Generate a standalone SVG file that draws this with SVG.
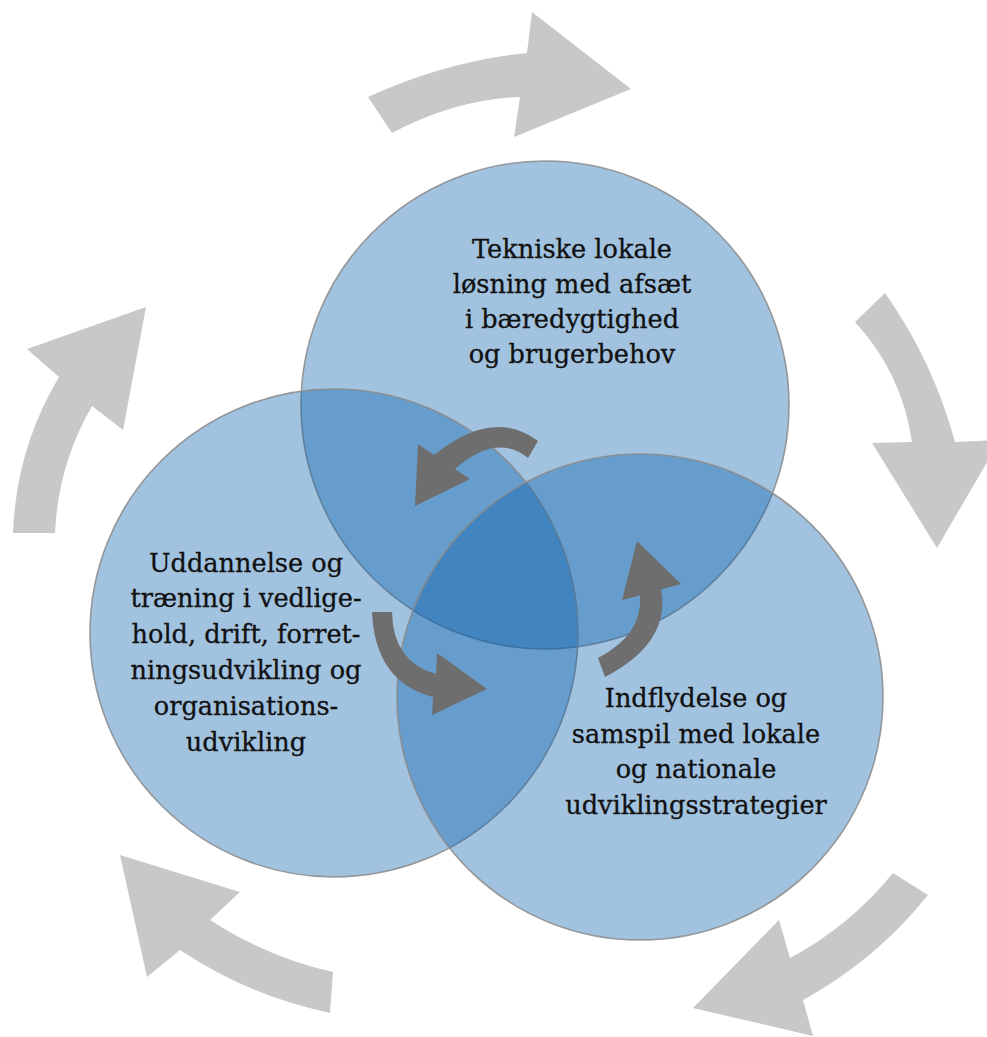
<svg xmlns="http://www.w3.org/2000/svg" width="987" height="1037" viewBox="0 0 987 1037">
<style>
.c{fill:#005BAA;fill-opacity:0.365;stroke:#8a8a8a;stroke-opacity:0.85;stroke-width:1.6}
.t{font-family:"DejaVu Serif","Liberation Serif",serif;font-size:25.6px;fill:#111111;stroke:#111111;stroke-width:0.3;text-anchor:middle}
.oa{fill:#c8c8c8}
.ia{fill:#6e6e6e}
</style>
<rect width="987" height="1037" fill="#ffffff"/>
<g id="node-top">
<circle class="c" cx="545" cy="405" r="244"/>
<text class="t"><tspan x="572" y="258">Tekniske lokale</tspan><tspan x="572" y="293">løsning med afsæt</tspan><tspan x="572" y="328">i bæredygtighed</tspan><tspan x="572" y="363">og brugerbehov</tspan></text>
</g>
<g id="node-left">
<circle class="c" cx="334" cy="633" r="244"/>
<text class="t"><tspan x="246" y="572">Uddannelse og</tspan><tspan x="246" y="607">træning i vedlige-</tspan><tspan x="246" y="643">hold, drift, forret-</tspan><tspan x="246" y="679">ningsudvikling og</tspan><tspan x="246" y="715">organisations-</tspan><tspan x="246" y="751">udvikling</tspan></text>
</g>
<g id="node-right">
<circle class="c" cx="640" cy="697" r="243"/>
<text class="t"><tspan x="696" y="707">Indflydelse og</tspan><tspan x="696" y="743">samspil med lokale</tspan><tspan x="696" y="778">og nationale</tspan><tspan x="696" y="814">udviklingsstrategier</tspan></text>
</g>
<g id="connectors">
<path class="oa" d="M368,97 Q446.5,61 527,53 L532,12 L631,89 L514,137 L520,97 Q456,99 392,133 Z"/>
<path class="oa" d="M885,293 Q933,361 955,442 L1000,440 L937,548 L872,443 L912,442 Q902,373 855,322 Z"/>
<path class="oa" d="M928,895 Q876,960 803,1000 L813,1036 L693,1008 L779,920 L790,958 Q850,926 893,873 Z"/>
<path class="oa" d="M330,1013 Q249,996 180,950 L147,977 L120,855 L240,892 L210,920 Q267,957 333,972 Z"/>
<path class="oa" d="M13,533 Q16,449 59,377 L27,349 L146,307 L123,430 L92,406 Q58,465 55,533 Z"/>
<path class="ia" d="M538,441 Q493.5,407 434,455 L418,444 L415,506 L470,479 L455,469 Q496.5,432.5 528,458 Z"/>
<path class="ia" d="M392,612 Q393,662 436,674 L437,653 L487,689 L432,715 L433,697 Q375,682 372,612 Z"/>
<path class="ia" d="M605,677 Q671,642.5 661,589.5 L681,584 L637,541 L622,600 L640,595.5 Q643,634.5 598,658 Z"/>
</g>
</svg>
